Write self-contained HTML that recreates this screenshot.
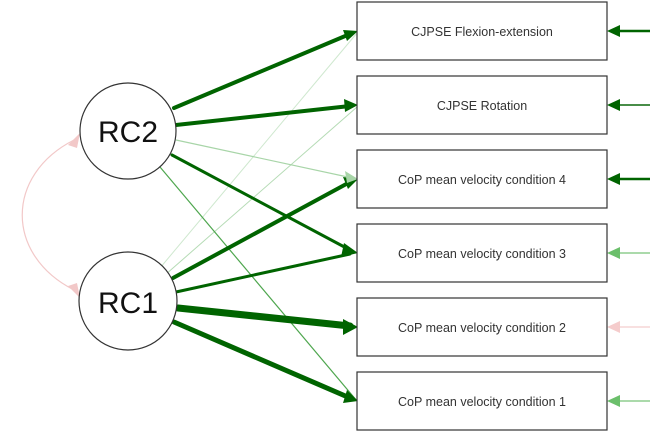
<!DOCTYPE html>
<html><head><style>body{margin:0;background:#fff}svg{display:block}</style></head><body>
<svg width="669" height="433" viewBox="0 0 669 433" xmlns="http://www.w3.org/2000/svg" font-family="Liberation Sans, sans-serif">
<g fill="none">
<line x1="160" y1="268" x2="357" y2="33" stroke="#cfe8cf" stroke-width="1"/>
<line x1="165" y1="275" x2="357" y2="107" stroke="#b5dbb5" stroke-width="1"/>
<line x1="176" y1="140" x2="357" y2="179" stroke="#a8d5a8" stroke-width="1.2"/>
<line x1="160" y1="167" x2="357" y2="401" stroke="#4ea64e" stroke-width="1.2"/>
<path d="M74,290 C5,255 5,175 74,140" stroke="#f2c8c8" stroke-width="1.2"/>
<path d="M68,145 L80,133 L77,148z" fill="#f2c8c8" stroke="none"/>
<path d="M68,286 L80,298 L77,283z" fill="#f2c8c8" stroke="none"/>
</g>
<g stroke="#006400" fill="none" stroke-linecap="round">
<line x1="174" y1="108" x2="350" y2="34" stroke-width="4"/>
<line x1="176" y1="125" x2="350" y2="106" stroke-width="4"/>
<line x1="172" y1="155" x2="350" y2="250" stroke-width="3"/>
<line x1="173" y1="278" x2="350" y2="182" stroke-width="4"/>
<line x1="176" y1="292" x2="350" y2="254" stroke-width="3"/>
<line x1="178" y1="308" x2="350" y2="326" stroke-width="7"/>
<line x1="174" y1="322" x2="350" y2="398" stroke-width="5"/>
</g>
<g fill="#006400">
<path d="M358,31 L343,30 L347,41z"/>
<path d="M358,105 L344,99 L345,112z"/>
<path d="M358,179 L343,177 L348,189z" />
<path d="M358,253 L344,243 L341,257z"/>
<path d="M358,327 L343,319 L343,335z"/>
<path d="M358,401 L347,390 L343,403z"/>
</g>
<path d="M358,179 L345,171 L347,183z" fill="#a8d5a8"/>
<g stroke-width="2.5">
<line x1="618" y1="31" x2="650" y2="31" stroke="#006400"/><path d="M607,31L620,25L620,37z" fill="#006400"/>
<line x1="618" y1="105" x2="650" y2="105" stroke="#2e7d2e" stroke-width="1.8"/><path d="M607,105L620,99L620,111z" fill="#006400"/>
<line x1="618" y1="179" x2="650" y2="179" stroke="#006400"/><path d="M607,179L620,173L620,185z" fill="#006400"/>
<line x1="618" y1="253" x2="650" y2="253" stroke="#8fce8f" stroke-width="1.5"/><path d="M607,253L620,247L620,259z" fill="#6bbf6b"/>
<line x1="618" y1="327" x2="650" y2="327" stroke="#f5d6d6" stroke-width="1.5"/><path d="M607,327L620,321L620,333z" fill="#f5cccc"/>
<line x1="618" y1="401" x2="650" y2="401" stroke="#8fce8f" stroke-width="1.5"/><path d="M607,401L620,395L620,407z" fill="#6bbf6b"/>
</g>
<g fill="#fff" stroke="#333" stroke-width="1.2">
<circle cx="128" cy="131" r="48"/>
<circle cx="128" cy="301" r="49"/>
<rect x="357" y="2" width="250" height="58"/>
<rect x="357" y="76" width="250" height="58"/>
<rect x="357" y="150" width="250" height="58"/>
<rect x="357" y="224" width="250" height="58"/>
<rect x="357" y="298" width="250" height="58"/>
<rect x="357" y="372" width="250" height="58"/>
</g>
<g fill="#111" font-size="30" text-anchor="middle">
<text x="128" y="142">RC2</text>
<text x="128" y="313">RC1</text>
</g>
<g fill="#333" font-size="12.5" text-anchor="middle">
<text x="482" y="36">CJPSE Flexion-extension</text>
<text x="482" y="110">CJPSE Rotation</text>
<text x="482" y="184">CoP mean velocity condition 4</text>
<text x="482" y="258">CoP mean velocity condition 3</text>
<text x="482" y="332">CoP mean velocity condition 2</text>
<text x="482" y="406">CoP mean velocity condition 1</text>
</g>
</svg>
</body></html>
